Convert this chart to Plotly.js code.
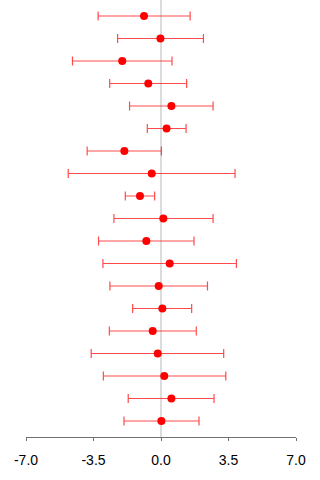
<!DOCTYPE html>
<html>
<head>
<meta charset="utf-8">
<script src="https://cdn.plot.ly/plotly-3.0.1.min.js"></script>
<style>
  html, body { margin: 0; padding: 0; background: #ffffff; }
  #chart { width: 320px; height: 480px; }
</style>
</head>
<body>
<div id="chart"></div>
<script>
// Point estimates with lower / upper interval bounds, listed top row first
const estimate = [-0.88, -0.03, -2.01, -0.66, 0.54, 0.29, -1.90, -0.48, -1.09, 0.12,
                  -0.76, 0.45, -0.12, 0.07, -0.43, -0.17, 0.17, 0.54, 0.02];
const lower    = [-3.26, -2.25, -4.59, -2.66, -1.63, -0.71, -3.83, -4.81, -1.85, -2.44,
                  -3.24, -3.01, -2.65, -1.47, -2.68, -3.62, -2.99, -1.70, -1.92];
const upper    = [1.51, 2.20, 0.57, 1.33, 2.70, 1.30, 0.02, 3.84, -0.33, 2.70,
                  1.71, 3.91, 2.41, 1.59, 1.83, 3.25, 3.36, 2.75, 1.97];
const tickValues = [-7, -3.5, 0, 3.5, 7];
const tickLabels = ["-7.0", "-3.5", "0.0", "3.5", "7.0"];

const n = estimate.length;
// row positions: first entry at the top
const rowPos = estimate.map((_, i) => n - i);
const plus  = estimate.map((v, i) => upper[i] - v);
const minus = estimate.map((v, i) => v - lower[i]);

const trace = {
  type: "scatter",
  mode: "markers",
  x: estimate,
  y: rowPos,
  marker: { color: "#ff0000", size: 8 },
  error_x: {
    type: "data",
    symmetric: false,
    array: plus,
    arrayminus: minus,
    color: "rgba(255,30,30,0.8)",
    thickness: 1.2,
    width: 4.5
  },
  hoverinfo: "x",
  showlegend: false
};

const layout = {
  width: 320,
  height: 480,
  margin: { l: 26, r: 24.3, t: 0, b: 43.3 },
  paper_bgcolor: "#ffffff",
  plot_bgcolor: "#ffffff",
  xaxis: {
    range: [-7, 7],
    tickvals: tickValues,
    ticktext: tickLabels,
    showgrid: false,
    zeroline: false,
    showline: true,
    linecolor: "#707070",
    linewidth: 1,
    ticks: "outside",
    ticklen: 3,
    tickcolor: "#707070",
    ticklabelstandoff: 7,
    tickfont: { family: "Liberation Sans, Arial, sans-serif", size: 14, color: "#000000" },
    fixedrange: true
  },
  yaxis: {
    range: [0.288, n + 0.712],
    showgrid: false,
    zeroline: false,
    showline: false,
    showticklabels: false,
    ticks: "",
    fixedrange: true
  },
  shapes: [{
    type: "line",
    xref: "x", yref: "paper",
    x0: 0, x1: 0, y0: 0, y1: 1,
    line: { color: "#dcdcdc", width: 2 },
    layer: "below"
  }]
};

Plotly.newPlot("chart", [trace], layout, { displayModeBar: false, staticPlot: true });
</script>
</body>
</html>
